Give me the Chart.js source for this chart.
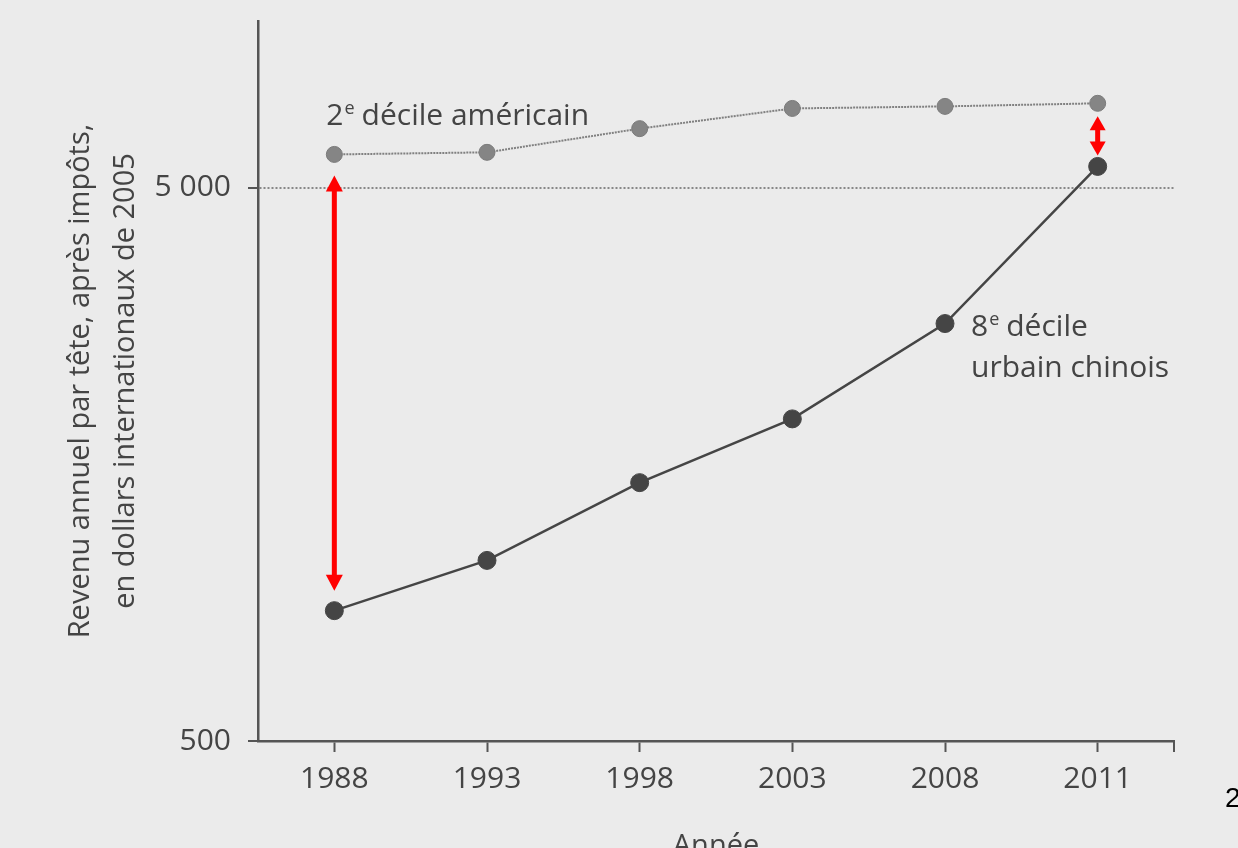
<!DOCTYPE html>
<html lang="fr">
<head>
    <meta charset="UTF-8">
    <title>Revenu annuel par tête</title>
    <script src="https://cdn.jsdelivr.net/npm/chart.js"></script>
    <style>
        html, body {
            margin: 0;
            padding: 0;
            overflow: hidden;
            background-color: #ebebeb;
        }
        .wrap {
            position: relative;
            width: 1238px;
            height: 870px;
        }
        .page-num {
            position: absolute;
            left: 1225px;
            top: 782px;
            font: 28px "Liberation Sans", Arial, sans-serif;
            color: #000;
        }
    </style>
</head>
<body>
<div class="wrap">
    <canvas id="chart" width="1238" height="870"></canvas>
    <div class="page-num">2</div>
</div>

<script>
    const years = ['1988', '1993', '1998', '2003', '2008', '2011'];
    const usDecile2 = [5740, 5790, 6390, 6950, 7010, 7100];
    const chinaUrbanDecile8 = [860, 1060, 1465, 1910, 2840, 5460];
    const yTickValues = [500, 5000];

    const FONT = '"Open Sans", "DejaVu Sans", sans-serif';
    const TEXT = '#444444';
    const AXIS = '#555555';

    // red double arrows showing the gap in 1988 and 2011, plus the series labels
    const notesPlugin = {
        id: 'notes',
        afterDatasetsDraw(chart) {
            const ctx = chart.ctx;
            const x = chart.scales.x;
            const y = chart.scales.y;
            const area = chart.chartArea;

            // closing tick at the right end of the x axis
            ctx.save();
            ctx.strokeStyle = AXIS;
            ctx.lineWidth = 2;
            ctx.beginPath();
            ctx.moveTo(area.right, area.bottom);
            ctx.lineTo(area.right, area.bottom + 11);
            ctx.stroke();
            ctx.restore();

            const arrow = (px, yTop, yBot, headW, headL, shaft) => {
                ctx.save();
                ctx.fillStyle = '#ff0000';
                ctx.fillRect(px - shaft / 2, yTop + headL - 1, shaft, yBot - yTop - 2 * headL + 2);
                ctx.beginPath();
                ctx.moveTo(px, yTop);
                ctx.lineTo(px - headW / 2, yTop + headL);
                ctx.lineTo(px + headW / 2, yTop + headL);
                ctx.closePath();
                ctx.fill();
                ctx.beginPath();
                ctx.moveTo(px, yBot);
                ctx.lineTo(px - headW / 2, yBot - headL);
                ctx.lineTo(px + headW / 2, yBot - headL);
                ctx.closePath();
                ctx.fill();
                ctx.restore();
            };

            const first = 0;
            const last = years.length - 1;
            arrow(x.getPixelForValue(first),
                y.getPixelForValue(usDecile2[first]) + 21,
                y.getPixelForValue(chinaUrbanDecile8[first]) - 20, 17, 16, 5);
            arrow(x.getPixelForValue(last),
                y.getPixelForValue(usDecile2[last]) + 13,
                y.getPixelForValue(chinaUrbanDecile8[last]) - 11, 16, 14, 5);

            const label = (px, py, num, rest) => {
                ctx.save();
                ctx.fillStyle = TEXT;
                ctx.textBaseline = 'alphabetic';
                ctx.font = '30px ' + FONT;
                ctx.fillText(num, px, py);
                let w = ctx.measureText(num).width;
                ctx.font = '18px ' + FONT;
                ctx.fillText('e', px + w + 1, py - 11);
                w += ctx.measureText('e').width + 2;
                ctx.font = '30px ' + FONT;
                ctx.fillText(rest, px + w + 6, py);
                ctx.restore();
            };

            label(x.getPixelForValue(0) - 8, y.getPixelForValue(usDecile2[0]) - 29, '2', 'décile américain');

            const cx = x.getPixelForValue(4) + 26;
            const cy = y.getPixelForValue(chinaUrbanDecile8[4]);
            label(cx, cy + 12, '8', 'décile');
            ctx.save();
            ctx.fillStyle = TEXT;
            ctx.font = '30px ' + FONT;
            ctx.fillText('urbain chinois', cx, cy + 53);
            ctx.restore();
        }
    };

    const ctx = document.getElementById('chart').getContext('2d');

    new Chart(ctx, {
        type: 'line',
        data: {
            labels: years,
            datasets: [
                {
                    label: '2e décile américain',
                    data: usDecile2,
                    borderColor: '#808080',
                    borderWidth: 2,
                    borderDash: [2, 1],
                    pointRadius: 8,
                    pointBackgroundColor: '#858585',
                    pointBorderColor: '#7a7a7a',
                    pointBorderWidth: 1,
                    tension: 0
                },
                {
                    label: '8e décile urbain chinois',
                    data: chinaUrbanDecile8,
                    borderColor: '#454545',
                    borderWidth: 2.5,
                    pointRadius: 9,
                    pointBackgroundColor: '#454545',
                    pointBorderColor: '#454545',
                    pointBorderWidth: 1,
                    tension: 0
                }
            ]
        },
        options: {
            responsive: false,
            animation: false,
            clip: false,
            layout: {
                padding: { top: 21, right: 64, left: 0, bottom: 0 }
            },
            plugins: {
                legend: { display: false },
                tooltip: { enabled: false }
            },
            scales: {
                x: {
                    offset: true,
                    afterFit: (scale) => {
                        scale.height = 129;
                        scale.paddingLeft = 0;
                        scale.paddingRight = 0;
                    },
                    grid: {
                        color: 'rgba(0,0,0,0)',
                        drawOnChartArea: false,
                        tickColor: AXIS,
                        tickLength: 11,
                        tickWidth: 2
                    },
                    border: { color: AXIS, width: 2.5 },
                    ticks: {
                        color: TEXT,
                        font: { family: FONT, size: 30 },
                        padding: 9,
                        maxRotation: 0
                    },
                    title: {
                        display: true,
                        text: 'Année',
                        color: TEXT,
                        font: { family: FONT, size: 29 },
                        padding: { top: 0, bottom: 6 }
                    }
                },
                y: {
                    type: 'logarithmic',
                    min: 500,
                    max: 10000,
                    afterFit: (scale) => {
                        scale.width = 258;
                        scale.paddingTop = 0;
                        scale.paddingBottom = 0;
                    },
                    afterBuildTicks: (scale) => {
                        scale.ticks = yTickValues.map(v => ({ value: v }));
                    },
                    grid: {
                        color: (c) => (c.tick && c.tick.value === 5000) ? '#888888' : 'rgba(0,0,0,0)',
                        lineWidth: 2,
                        tickColor: AXIS,
                        tickLength: 10,
                        tickWidth: 2,
                        tickBorderDash: []
                    },
                    border: { color: AXIS, width: 2.5, dash: [2, 2] },
                    ticks: {
                        color: TEXT,
                        font: { family: FONT, size: 30 },
                        padding: 17,
                        callback: (v) => v.toLocaleString('en-US').replace(/,/g, ' ')
                    },
                    title: {
                        display: true,
                        text: ['Revenu annuel par tête, après impôts,', 'en dollars internationaux de 2005'],
                        color: TEXT,
                        font: { family: FONT, size: 29, lineHeight: 1.55 },
                        padding: { top: 58, bottom: 0 }
                    }
                }
            }
        },
        plugins: [notesPlugin]
    });
</script>
</body>
</html>
